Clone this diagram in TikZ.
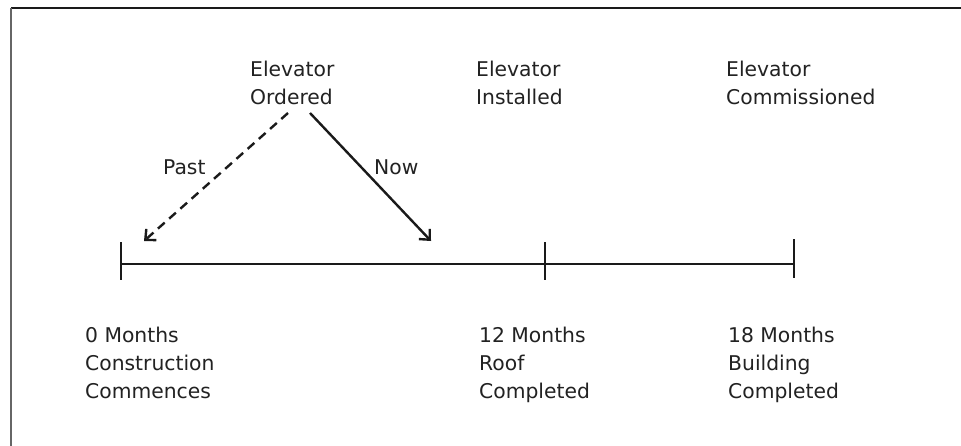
\documentclass[tikz,border=0pt]{standalone}
\usepackage{fontspec}
\setmainfont{DejaVu Sans}
\usetikzlibrary{arrows.meta}
\definecolor{ink}{HTML}{1A1A1A}
\definecolor{txt}{HTML}{222222}
\definecolor{framegray}{HTML}{666666}
\begin{document}
\begin{tikzpicture}[x=1pt,y=-1pt,
  lbl/.style={anchor=north west,inner sep=0pt,align=left,text=txt,
    font={\fontsize{20.3}{28}\selectfont}},
  sgl/.style={anchor=base west,inner sep=0pt,text=txt,
    font={\fontsize{20.3}{28}\selectfont}},
  axis/.style={draw=ink,line width=2.6pt},
  tick/.style={draw=ink,line width=2.6pt},
  arr/.style={draw=ink,line width=2.4pt,-{Straight Barb[length=8pt,width=15pt,line width=2.4pt]}}]
\useasboundingbox (0,0) rectangle (961,445);
\fill[white] (0,0) rectangle (961,445);
% frame
\draw[draw=ink,line width=1.8pt] (11,8) -- (962,8);
\draw[draw=framegray,line width=1.8pt] (11,8) -- (11,446);
% timeline
\coordinate (t0) at (121,264);
\coordinate (t12) at (545,264);
\coordinate (t18) at (794,264);
\draw[axis] (t0) -- (t18);
\draw[tick] (121,242) -- (121,280);
\draw[tick] (545,242) -- (545,280);
\draw[tick] (794,239) -- (794,278);
% top labels
\node[lbl] (ordered) at (250,60.5) {Elevator\\Ordered};
\node[lbl] (installed) at (476,60.5) {Elevator\\Installed};
\node[lbl] (commissioned) at (726,60.5) {Elevator\\Commissioned};
% arrows
\coordinate (pastS) at (288,113);
\coordinate (pastE) at (144,241);
\coordinate (nowS) at (310,113);
\coordinate (nowE) at (431,241);
\draw[arr,dash pattern=on 9pt off 6pt] (pastS) -- (pastE);
\draw[arr] (nowS) -- (nowE);
\node[sgl] (past) at (163,174) {Past};
\node[sgl] (now) at (374,174) {Now};
% bottom labels
\node[lbl] (m0) at (85,326.5) {0 Months\\Construction\\Commences};
\node[lbl] (m12) at (479,326.5) {12 Months\\Roof\\Completed};
\node[lbl] (m18) at (728,326.5) {18 Months\\Building\\Completed};
\end{tikzpicture}
\end{document}
